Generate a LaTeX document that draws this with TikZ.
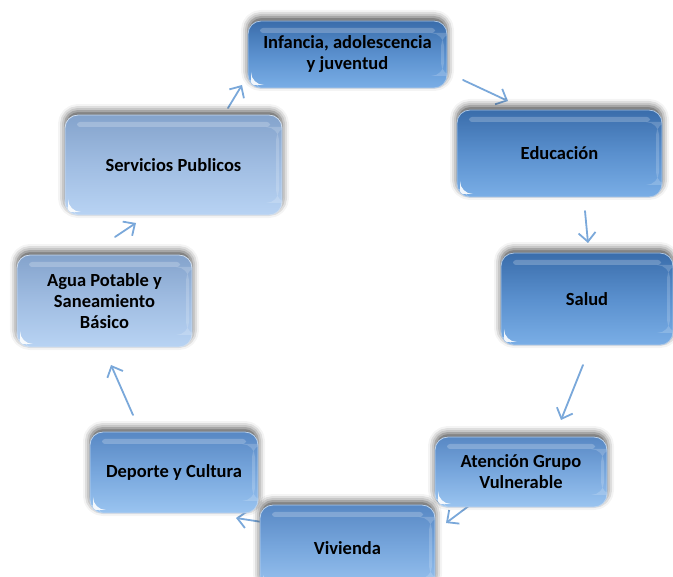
\documentclass[tikz,border=0pt]{standalone}
\usepackage{fontspec}
\setmainfont{Carlito}
\usetikzlibrary{arrows.meta,shadows.blur}
\definecolor{dA1}{HTML}{3A6DAB}\definecolor{dA2}{HTML}{5A90CE}\definecolor{dA3}{HTML}{7AAEE6}
\definecolor{dB1}{HTML}{5888C4}\definecolor{dB2}{HTML}{78A7DD}\definecolor{dB3}{HTML}{9AC4F0}
\definecolor{dC1}{HTML}{84A3CC}\definecolor{dC2}{HTML}{A0BDE2}\definecolor{dC3}{HTML}{B8D3F3}
\definecolor{arrowblue}{HTML}{7AA8DA}
\tikzset{
  gbox/.style={rounded corners=13pt, inner sep=2pt, align=center,
    font=\bfseries\fontsize{18.5}{21}\selectfont, text=black,
    draw=white!50!#1, line width=0.8pt,
    blur shadow={shadow xshift=0pt, shadow yshift=4pt, shadow blur radius=7pt, shadow opacity=70},
    path picture={
      \fill[white,opacity=.22,rounded corners=3pt]
        ([xshift=12pt,yshift=-7pt]path picture bounding box.north west) rectangle
        ([xshift=-12pt,yshift=-12pt]path picture bounding box.north east);
      \fill[white,opacity=.18]
        ([xshift=-6pt,yshift=-12pt]path picture bounding box.north east) rectangle
        ([xshift=-3pt,yshift=12pt]path picture bounding box.south east);
      \fill[white,opacity=.9]
        ([xshift=3pt,yshift=3pt]path picture bounding box.south west) -- ++(0,8pt)
        .. controls ++(3pt,-4pt) and ++(-4pt,2pt) .. ++(8pt,-8pt) -- cycle;
    }},
  grpA/.style={gbox=dA2, top color=dA1, bottom color=dA3, middle color=dA2},
  grpB/.style={gbox=dB2, top color=dB1, bottom color=dB3, middle color=dB2},
  grpC/.style={gbox=dC2, top color=dC1, bottom color=dC3, middle color=dC2},
  flow/.style={draw=arrowblue, line width=1.8pt, line cap=round,
    -{Straight Barb[length=9pt,width=17pt,line width=1.8pt]}}
}
\begin{document}
\begin{tikzpicture}[x=1pt,y=-1pt]
\useasboundingbox (0,0) rectangle (673,577);
% arrow end points
\coordinate (a1s) at (463,80);  \coordinate (a1t) at (508,101);
\coordinate (a2s) at (585,211); \coordinate (a2t) at (588,243);
\coordinate (a3s) at (583,365); \coordinate (a3t) at (561,420);
\coordinate (a4s) at (470,505); \coordinate (a4t) at (446,523);
\coordinate (a5s) at (262,522); \coordinate (a5t) at (236,518);
\coordinate (a6s) at (133,415); \coordinate (a6t) at (111,365);
\coordinate (a7s) at (115,237); \coordinate (a7t) at (136,223);
\coordinate (a8s) at (228,108); \coordinate (a8t) at (242,85);
\draw[flow] (a1s) -- (a1t);
\draw[flow] (a2s) -- (a2t);
\draw[flow] (a3s) -- (a3t);
\draw[flow] (a4s) -- (a4t);
\draw[flow] (a5s) -- (a5t);
\draw[flow] (a6s) -- (a6t);
\draw[flow] (a7s) -- (a7t);
\draw[flow] (a8s) -- (a8t);
% boxes
\node[grpA, minimum width=199pt, minimum height=67pt] (inf) at (347.5,54.5) {Infancia, adolescencia\\y juventud};
\node[grpA, minimum width=205pt, minimum height=87pt] (edu) at (559.5,153.5) {Educación};
\node[grpA, minimum width=172pt, minimum height=92pt] (sal) at (587,299) {Salud};
\node[grpB, minimum width=172pt, minimum height=70pt] (ate) at (521,472) {Atención Grupo\\Vulnerable};
\node[grpB, minimum width=175pt, minimum height=86pt] (viv) at (347.5,548) {Vivienda};
\node[grpB, minimum width=168pt, minimum height=81pt] (dep) at (174,472.5) {Deporte y Cultura};
\node[grpC, minimum width=175pt, minimum height=92pt] (agu) at (104.5,301) {Agua Potable y\\Saneamiento\\Básico};
\node[grpC, minimum width=217pt, minimum height=100pt] (ser) at (173.5,165) {Servicios Publicos};
\end{tikzpicture}
\end{document}
